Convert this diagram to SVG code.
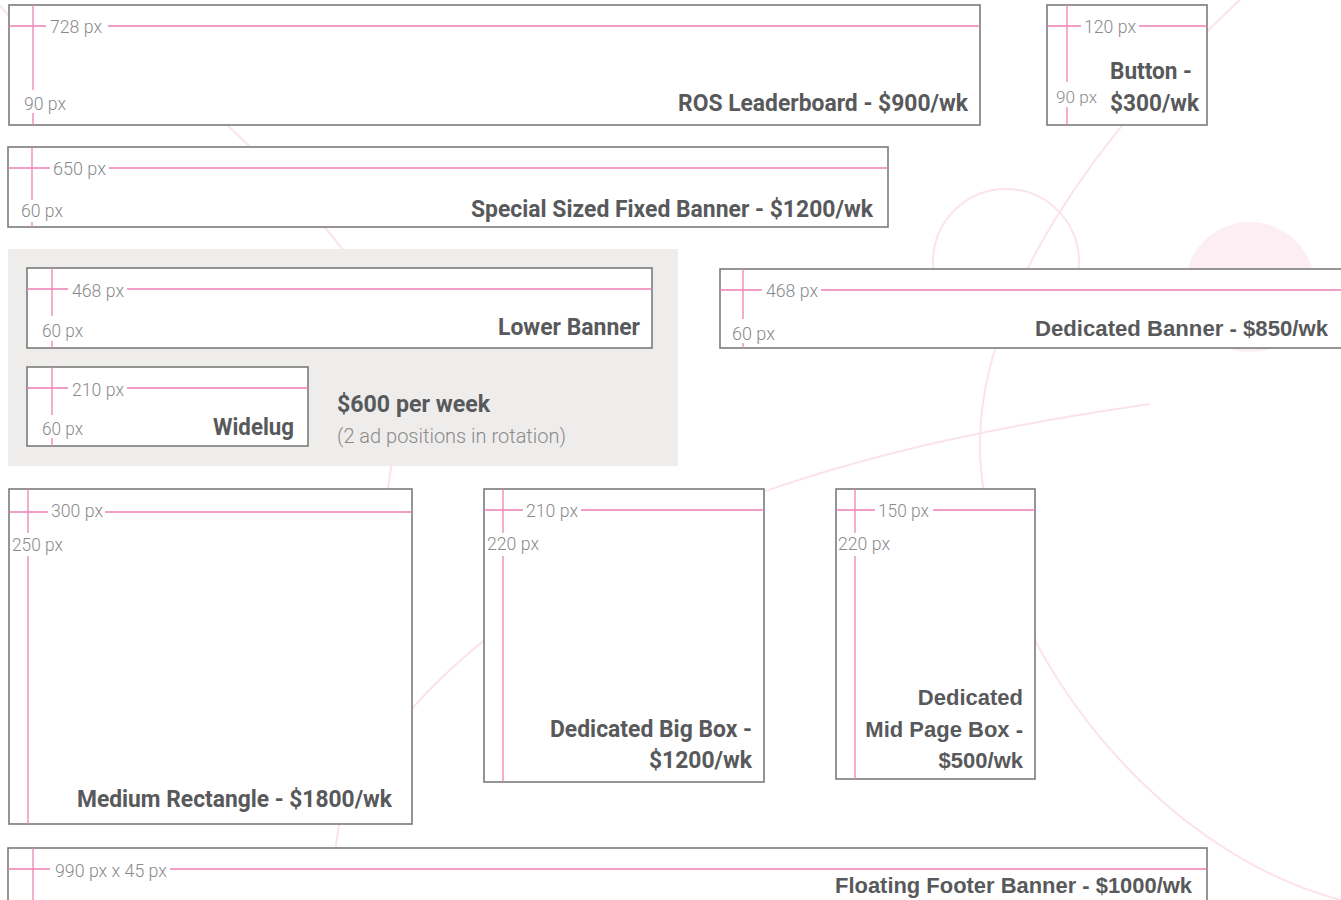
<svg xmlns="http://www.w3.org/2000/svg" width="1341" height="900" viewBox="0 0 1341 900">
<style>
.deco{fill:none;stroke:#fbe3ed;stroke-width:2}
.box{fill:#fff;stroke:#7b7b7b;stroke-width:1.6}
.g{stroke:#ee80b7;stroke-width:1.3;fill:none}
.dim{font-family:Roboto,"Liberation Sans",sans-serif;font-weight:300;font-size:19px;fill:#8a8a8c}
.t{font-family:Roboto,"Liberation Sans",sans-serif;font-weight:700;font-size:24px;fill:#58595b}
.w{font-family:"Liberation Sans",Arial,sans-serif;font-weight:bold;font-size:22px;fill:#58595b;text-anchor:end}
.sub{font-family:Roboto,"Liberation Sans",sans-serif;font-weight:300;font-size:21px;fill:#8a8a8c}
</style>
<rect width="1341" height="900" fill="#fff"/>
<g id="background">
<circle cx="1250" cy="287" r="65" fill="#fdeef4"/>
<circle class="deco" cx="1006" cy="262" r="73"/>
<path class="deco" d="M1245,-5 C1100,130 975,300 980,455 C990,640 1150,850 1341,900"/>
<path class="deco" d="M1150,404 C900,440 580,510 400,722"/>
<path class="deco" d="M205,105 Q290,180 355,265"/>
<path class="deco" d="M395,440 L328,900"/>
<path class="deco" d="M-5,0 L14,22"/>
</g>
<rect id="rotation-panel" x="8" y="249" width="670" height="217" fill="#eeedeb"/>
<g id="connectors"></g>
<g id="leaderboard">
<rect class="box" x="9" y="5" width="971" height="120"/>
<path class="g" d="M9,26H46M108,26H980M33,5V90M33,113V125"/>
<text class="dim" x="50" y="33" textLength="52" lengthAdjust="spacingAndGlyphs">728 px</text>
<text class="dim" x="24" y="110" textLength="42" lengthAdjust="spacingAndGlyphs">90 px</text>
<text class="t" x="968" y="111" text-anchor="end" textLength="290" lengthAdjust="spacingAndGlyphs">ROS Leaderboard - $900/wk</text>
</g>
<g id="button">
<rect class="box" x="1047" y="5" width="160" height="120"/>
<path class="g" d="M1047,26H1081M1139,26H1207M1067,5V82M1067,107V125"/>
<text class="dim" x="1084" y="33" textLength="52" lengthAdjust="spacingAndGlyphs">120 px</text>
<text class="dim" x="1056" y="103" style="font-size:17px" textLength="41" lengthAdjust="spacingAndGlyphs">90 px</text>
<text class="t" x="1110" y="79" textLength="82" lengthAdjust="spacingAndGlyphs">Button -</text>
<text class="t" x="1110" y="111" textLength="89" lengthAdjust="spacingAndGlyphs">$300/wk</text>
</g>
<g id="special-banner">
<rect class="box" x="8" y="147" width="880" height="80"/>
<path class="g" d="M8,168H50M109,168H888M32,147V200M32,222V227"/>
<text class="dim" x="53" y="175" textLength="53" lengthAdjust="spacingAndGlyphs">650 px</text>
<text class="dim" x="21" y="217" textLength="42" lengthAdjust="spacingAndGlyphs">60 px</text>
<text class="t" x="873" y="217" text-anchor="end" textLength="402" lengthAdjust="spacingAndGlyphs">Special Sized Fixed Banner - $1200/wk</text>
</g>
<g id="lower-banner">
<rect class="box" x="27" y="268" width="625" height="80"/>
<path class="g" d="M27,289H68M127,289H652M52,268V316M52,341V348"/>
<text class="dim" x="72" y="297" textLength="52" lengthAdjust="spacingAndGlyphs">468 px</text>
<text class="dim" x="42" y="337" textLength="41" lengthAdjust="spacingAndGlyphs">60 px</text>
<text class="t" x="640" y="335" text-anchor="end" textLength="142" lengthAdjust="spacingAndGlyphs">Lower Banner</text>
</g>
<g id="widelug">
<rect class="box" x="27" y="367" width="281" height="79"/>
<path class="g" d="M27,388H68M127,388H308M52,367V415M52,438V446"/>
<text class="dim" x="72" y="396" textLength="52" lengthAdjust="spacingAndGlyphs">210 px</text>
<text class="dim" x="42" y="435" textLength="41" lengthAdjust="spacingAndGlyphs">60 px</text>
<text class="t" x="294" y="435" text-anchor="end" textLength="81" lengthAdjust="spacingAndGlyphs">Widelug</text>
</g>
<g id="rotation-note">
<text class="t" x="337" y="412" textLength="153" lengthAdjust="spacingAndGlyphs">$600 per week</text>
<text class="sub" x="337" y="443" textLength="229" lengthAdjust="spacingAndGlyphs">(2 ad positions in rotation)</text>
</g>
<g id="dedicated-banner">
<rect class="box" x="720" y="269" width="630" height="79"/>
<path class="g" d="M720,290H762M821,290H1341M743,269V319M743,343V348"/>
<text class="dim" x="766" y="297" textLength="52" lengthAdjust="spacingAndGlyphs">468 px</text>
<text class="dim" x="732" y="340" textLength="43" lengthAdjust="spacingAndGlyphs">60 px</text>
<text class="w" x="1328" y="336" textLength="293" lengthAdjust="spacingAndGlyphs">Dedicated Banner - $850/wk</text>
</g>
<g id="medium-rectangle">
<rect class="box" x="9" y="489" width="403" height="335"/>
<path class="g" d="M9,512H48M105,512H412M28,489V533M28,556V824"/>
<text class="dim" x="51" y="517" textLength="52" lengthAdjust="spacingAndGlyphs">300 px</text>
<text class="dim" x="12" y="551" textLength="51" lengthAdjust="spacingAndGlyphs">250 px</text>
<text class="t" x="392" y="807" text-anchor="end" textLength="315" lengthAdjust="spacingAndGlyphs">Medium Rectangle - $1800/wk</text>
</g>
<g id="big-box">
<rect class="box" x="484" y="489" width="280" height="293"/>
<path class="g" d="M484,510H523M581,510H764M503,489V533M503,556V782"/>
<text class="dim" x="526" y="517" textLength="52" lengthAdjust="spacingAndGlyphs">210 px</text>
<text class="dim" x="487" y="550" textLength="52" lengthAdjust="spacingAndGlyphs">220 px</text>
<text class="t" x="752" y="737" text-anchor="end" textLength="202" lengthAdjust="spacingAndGlyphs">Dedicated Big Box -</text>
<text class="t" x="752" y="768" text-anchor="end" textLength="103" lengthAdjust="spacingAndGlyphs">$1200/wk</text>
</g>
<g id="mid-page-box">
<rect class="box" x="836" y="489" width="199" height="290"/>
<path class="g" d="M836,510H875M933,510H1035M855,489V533M855,556V779"/>
<text class="dim" x="878" y="517" textLength="51" lengthAdjust="spacingAndGlyphs">150 px</text>
<text class="dim" x="838" y="550" textLength="52" lengthAdjust="spacingAndGlyphs">220 px</text>
<text class="w" x="1023" y="705">Dedicated</text>
<text class="w" x="1023" y="737">Mid Page Box -</text>
<text class="w" x="1023" y="768">$500/wk</text>
</g>
<g id="footer-banner">
<rect class="box" x="8" y="848" width="1199" height="60"/>
<path class="g" d="M8,869H50M170,869H1207M33,848V900"/>
<text class="dim" x="55" y="877" textLength="112" lengthAdjust="spacingAndGlyphs">990 px x 45 px</text>
<text class="w" x="1192" y="893" textLength="357" lengthAdjust="spacingAndGlyphs">Floating Footer Banner - $1000/wk</text>
</g>
</svg>
